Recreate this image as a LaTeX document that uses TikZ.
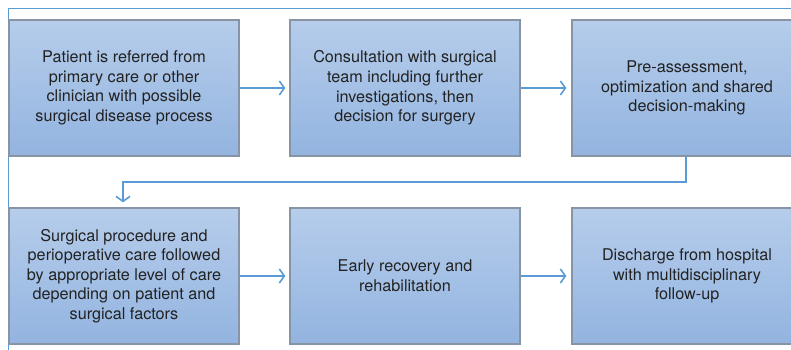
\documentclass[tikz,border=0pt]{standalone}
\usepackage{fontspec}
\setmainfont{TeX Gyre Heros}
\usetikzlibrary{arrows.meta}
\definecolor{boxtop}{RGB}{182,205,235}
\definecolor{boxbot}{RGB}{147,180,224}
\definecolor{boxedge}{RGB}{135,148,166}
\definecolor{flow}{RGB}{91,155,213}
\definecolor{txt}{RGB}{34,34,34}
\tikzset{
  stepbox/.style={rectangle, draw=boxedge, line width=1.3pt, top color=boxtop, bottom color=boxbot,
    minimum width=230pt, minimum height=136pt, inner sep=0pt, align=center,
    text=txt, font=\fontsize{16.2}{19.6}\selectfont},
  flowarrow/.style={draw=flow, line width=1.8pt, -{Straight Barb[length=5pt,width=14pt,line width=1.6pt]}},
  frameline/.style={draw=flow, line width=1pt}
}
\begin{document}
\begin{tikzpicture}[x=1pt,y=-1pt]
\useasboundingbox (0,0) rectangle (791,350);
\clip (0,0) rectangle (791,350);
\coordinate (ftl) at (8.5,8.5);
\coordinate (ftr) at (791,8.5);
\coordinate (fbl) at (8.5,350);
\draw[frameline] (ftr) -- (ftl) -- (fbl);
\node[stepbox] (b1) at (124,88) {Patient is referred from\\primary care or other\\clinician with possible\\surgical disease process};
\node[stepbox] (b2) at (405,88) {Consultation with surgical\\team including further\\investigations, then\\decision for surgery};
\node[stepbox] (b3) at (687,88) {Pre-assessment,\\optimization and shared\\decision-making};
\node[stepbox] (b4) at (124,276) {Surgical procedure and\\perioperative care followed\\by appropriate level of care\\depending on patient and\\surgical factors};
\node[stepbox] (b5) at (405,276) {Early recovery and\\rehabilitation};
\node[stepbox] (b6) at (687,276) {Discharge from hospital\\with multidisciplinary\\follow-up};
\draw[flowarrow, shorten >=4pt] (b1.east) -- (b2.west);
\draw[flowarrow, shorten >=5pt] (b2.east) -- (b3.west);
\draw[flowarrow, shorten >=4pt] (b4.east) -- (b5.west);
\draw[flowarrow, shorten >=5pt] (b5.east) -- (b6.west);
\coordinate (t1) at (686,182);
\coordinate (t2) at (123,182);
\draw[flowarrow, shorten >=5pt] (b3.south -| t1) -- (t1) -- (t2) -- (t2 |- b4.north);
\end{tikzpicture}
\end{document}
